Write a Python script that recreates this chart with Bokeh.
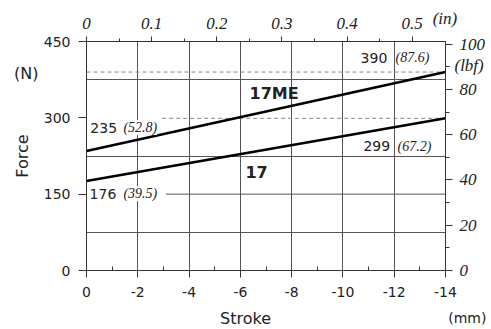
from bokeh.plotting import figure
from bokeh.models import Range1d, LinearAxis, FixedTicker, Label
from bokeh.embed import file_html
from bokeh.resources import INLINE

# ---- data ----
stroke_mm = [0, -14]
force_17 = [176, 299]          # N
force_17me = [235, 390]        # N
lbf_17 = ["39.5", "67.2"]
lbf_17me = ["52.8", "87.6"]

mm_ticks = [0, -2, -4, -6, -8, -10, -12, -14]
mm_minor = [-1, -3, -5, -7, -9, -11, -13]
n_ticks = [0, 150, 300, 450]
lbf_ticks = [0, 20, 40, 60, 80, 100]
lbf_minor = [10, 30, 50, 70, 90]
in_ticks = [0, 0.1, 0.2, 0.3, 0.4, 0.5]
in_labels = ["0", "0.1", "0.2", "0.3", "0.4", "0.5"]
in_minor = [0.05, 0.15, 0.25, 0.35, 0.45]

SANS = "DejaVu Sans"
SERIF = "Liberation Serif"
TXT = "#222222"
GRID = "#555555"

p = figure(frame_width=359, frame_height=229, output_backend="svg", toolbar_location=None,
           x_range=Range1d(0, -14), y_range=Range1d(0, 450),
           min_border_left=86, min_border_right=46, min_border_top=41,
           min_border_bottom=58, x_axis_location=None, y_axis_location=None)
p.outline_line_color = "#333333"
p.background_fill_color = "white"

p.extra_x_ranges = {"in": Range1d(0, 14 / 25.4)}
p.extra_y_ranges = {"lbf": Range1d(0, 450 / 4.448222)}

def style(ax, size, font, fstyle="normal"):
    ax.axis_line_color = "#333333"
    ax.major_tick_line_color = "#333333"
    ax.minor_tick_line_color = "#333333"
    ax.major_label_text_font = font
    ax.major_label_text_font_size = size
    ax.major_label_text_font_style = fstyle
    ax.major_label_text_color = TXT
    ax.axis_label_text_font = SANS
    ax.axis_label_text_font_size = "16px"
    ax.axis_label_text_font_style = "normal"
    ax.axis_label_text_color = TXT

bottom = LinearAxis(ticker=FixedTicker(ticks=mm_ticks, minor_ticks=mm_minor))
style(bottom, "14px", SANS)
bottom.major_tick_out = 7
bottom.major_tick_in = 0
bottom.minor_tick_in = 4
bottom.minor_tick_out = 0
bottom.major_label_standoff = 9
bottom.major_label_overrides = {t: str(t) for t in mm_ticks}
p.add_layout(bottom, "below")

left = LinearAxis(ticker=FixedTicker(ticks=n_ticks, minor_ticks=[]), axis_label="Force")
style(left, "14px", SANS)
left.major_tick_out = 8
left.major_tick_in = 0
left.major_label_standoff = 8
left.axis_label_standoff = 9
p.add_layout(left, "left")

top = LinearAxis(x_range_name="in", ticker=FixedTicker(ticks=in_ticks, minor_ticks=in_minor))
style(top, "17px", SERIF, "italic")
top.major_tick_out = 5
top.major_tick_in = 0
top.minor_tick_out = 3
top.minor_tick_in = 0
top.major_label_standoff = 8
top.major_label_overrides = {t: l for t, l in zip(in_ticks, in_labels)}
p.add_layout(top, "above")

right = LinearAxis(y_range_name="lbf", ticker=FixedTicker(ticks=lbf_ticks, minor_ticks=lbf_minor))
style(right, "17px", SERIF, "italic")
right.major_tick_out = 7
right.major_tick_in = 0
right.minor_tick_out = 4
right.minor_tick_in = 0
right.major_label_standoff = 7
p.add_layout(right, "right")

# grid
p.xgrid.ticker = FixedTicker(ticks=mm_ticks[1:-1])
p.xgrid.grid_line_color = GRID
p.ygrid.ticker = FixedTicker(ticks=[75, 225, 375])
p.ygrid.grid_line_color = GRID

# partial gridline at 150 (starts after the label)
p.segment(x0=[-3.1], y0=[150], x1=[-14], y1=[150], line_color=GRID, line_width=1)

# dashed reference levels
p.segment(x0=[stroke_mm[0]], y0=[force_17me[1]], x1=[stroke_mm[1]], y1=[force_17me[1]],
          line_color="#888888", line_dash="4 3", line_width=1)
p.segment(x0=[-2.95], y0=[force_17[1]], x1=[stroke_mm[1]], y1=[force_17[1]],
          line_color="#888888", line_dash="4 3", line_width=1)

# data lines
p.line(stroke_mm, force_17me, line_color="black", line_width=2.6)
p.line(stroke_mm, force_17, line_color="black", line_width=2.6)

def lab(x, y, text, font=SANS, size="14px", fstyle="normal", align="left", bg="white",
        place=None, **kw):
    l = Label(x=x, y=y, text=text, text_font=font, text_font_size=size,
              text_font_style=fstyle, text_align=align, text_baseline="middle",
              text_color=TXT, background_fill_color=bg, **kw)
    if place is None:
        p.add_layout(l)
    else:
        p.add_layout(l, place)

# value annotations
lab(-0.15, 281, str(force_17me[0]))
lab(-1.44, 281, f"({lbf_17me[0]})", font=SERIF, fstyle="italic")
lab(-0.12, 151, str(force_17[0]))
lab(-1.44, 151, f"({lbf_17[0]})", font=SERIF, fstyle="italic")
lab(-10.69, 418, str(force_17me[1]))
lab(-12.05, 418, f"({lbf_17me[1]})", font=SERIF, fstyle="italic")
lab(-10.8, 244, str(force_17[1]))
lab(-12.13, 244, f"({lbf_17[1]})", font=SERIF, fstyle="italic")

# series names
lab(-6.36, 348, "17ME", size="16px", fstyle="bold", bg=None)
lab(-6.2, 194, "17", size="16px", fstyle="bold", bg=None)

# texts outside the frame: kept in the lower side panel (not clipped; positions in data units)
lab(2.35, 387, "(N)", size="16px", align="center", bg=None, place="below")
lab(-6.2, -94, "Stroke", size="16px", align="center", bg=None, place="below")
lab(-14.85, -94, "(mm)", size="14px", align="center", bg=None, place="below")
lab(-13.5, 495, "(in)", font=SERIF, size="17px", fstyle="italic", bg=None, place="below")
lab(-14.35, 403, "(lbf)", font=SERIF, size="17px", fstyle="italic", bg=None, place="below")

open("out.html", "w").write(file_html(p, INLINE))
